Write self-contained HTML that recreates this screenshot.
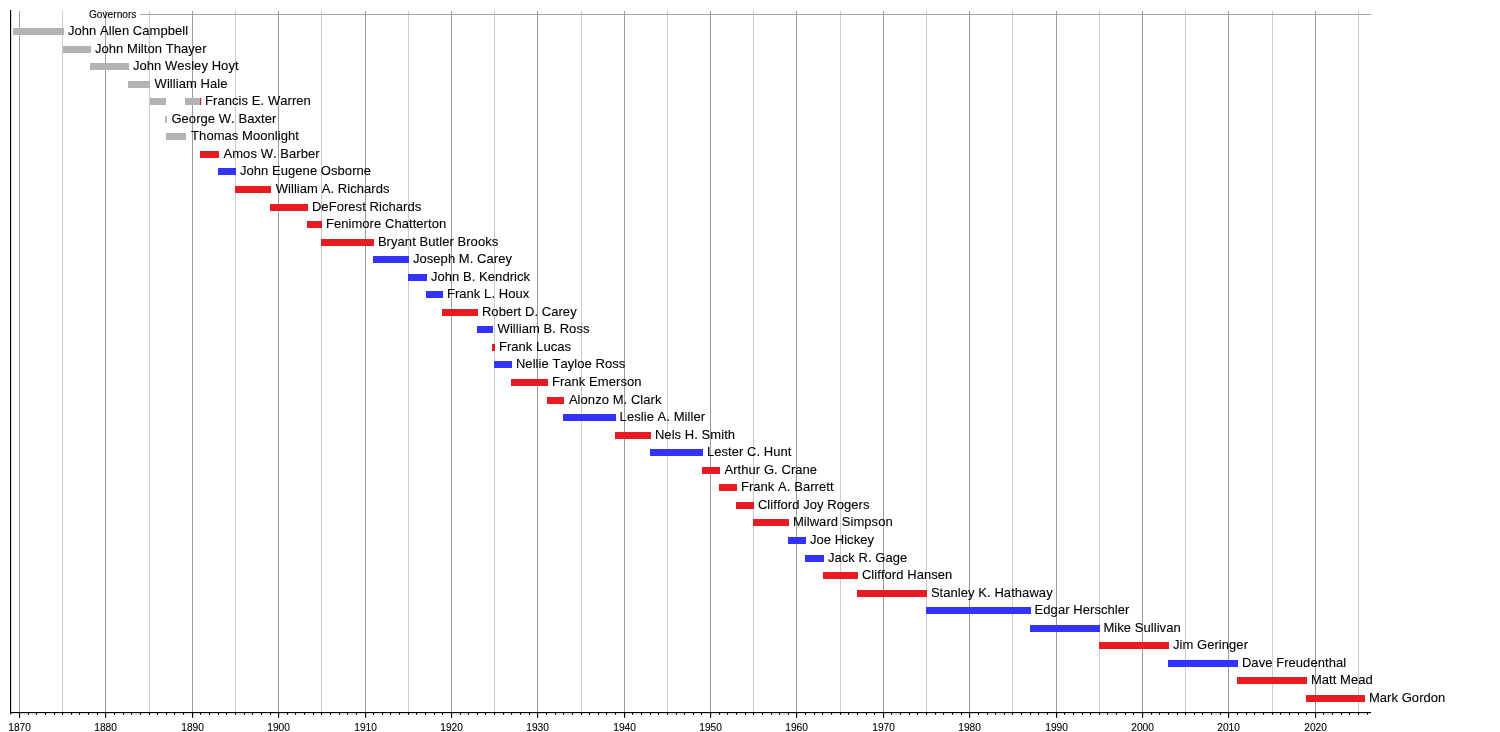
<!DOCTYPE html>
<html lang="en"><head><meta charset="utf-8"><title>Governors of Wyoming timeline</title>
<style>html,body{margin:0;padding:0;background:#fff}body{width:1500px;height:732px;overflow:hidden}svg{display:block;will-change:transform;filter:grayscale(0)}text{font-kerning:none;font-family:"Liberation Sans",Arial,Helvetica,sans-serif;fill:#000;stroke:#000;stroke-width:0.1px}.n{font-size:13px;letter-spacing:0.06px}.y{font-size:10.2px;text-anchor:middle}.t{font-size:10.2px}rect{shape-rendering:crispEdges}</style></head><body>
<svg width="1500" height="732" viewBox="0 0 1500 732">
<rect width="1500" height="732" fill="#fff"/>
<g id="grid">
<rect x="19" y="11" width="1" height="701" fill="#9c9c9c"/>
<rect x="62" y="11" width="1" height="701" fill="#cbcbcb"/>
<rect x="105" y="11" width="1" height="701" fill="#9c9c9c"/>
<rect x="149" y="11" width="1" height="701" fill="#cbcbcb"/>
<rect x="192" y="11" width="1" height="701" fill="#9c9c9c"/>
<rect x="235" y="11" width="1" height="701" fill="#cbcbcb"/>
<rect x="278" y="11" width="1" height="701" fill="#9c9c9c"/>
<rect x="321" y="11" width="1" height="701" fill="#cbcbcb"/>
<rect x="365" y="11" width="1" height="701" fill="#9c9c9c"/>
<rect x="408" y="11" width="1" height="701" fill="#cbcbcb"/>
<rect x="451" y="11" width="1" height="701" fill="#9c9c9c"/>
<rect x="494" y="11" width="1" height="701" fill="#cbcbcb"/>
<rect x="537" y="11" width="1" height="701" fill="#9c9c9c"/>
<rect x="581" y="11" width="1" height="701" fill="#cbcbcb"/>
<rect x="624" y="11" width="1" height="701" fill="#9c9c9c"/>
<rect x="667" y="11" width="1" height="701" fill="#cbcbcb"/>
<rect x="710" y="11" width="1" height="701" fill="#9c9c9c"/>
<rect x="753" y="11" width="1" height="701" fill="#cbcbcb"/>
<rect x="796" y="11" width="1" height="701" fill="#9c9c9c"/>
<rect x="840" y="11" width="1" height="701" fill="#cbcbcb"/>
<rect x="883" y="11" width="1" height="701" fill="#9c9c9c"/>
<rect x="926" y="11" width="1" height="701" fill="#cbcbcb"/>
<rect x="969" y="11" width="1" height="701" fill="#9c9c9c"/>
<rect x="1012" y="11" width="1" height="701" fill="#cbcbcb"/>
<rect x="1056" y="11" width="1" height="701" fill="#9c9c9c"/>
<rect x="1099" y="11" width="1" height="701" fill="#cbcbcb"/>
<rect x="1142" y="11" width="1" height="701" fill="#9c9c9c"/>
<rect x="1185" y="11" width="1" height="701" fill="#cbcbcb"/>
<rect x="1228" y="11" width="1" height="701" fill="#9c9c9c"/>
<rect x="1272" y="11" width="1" height="701" fill="#cbcbcb"/>
<rect x="1315" y="11" width="1" height="701" fill="#9c9c9c"/>
<rect x="1358" y="11" width="1" height="701" fill="#cbcbcb"/>
</g>
<rect x="140" y="14" width="1231" height="1" fill="#a4a4a4"/>
<g id="bars">
<rect x="13" y="28" width="51" height="7" fill="#b3b3b3"/>
<rect x="63" y="46" width="28" height="7" fill="#b3b3b3"/>
<rect x="90" y="63" width="39" height="7" fill="#b3b3b3"/>
<rect x="128" y="81" width="22" height="7" fill="#b3b3b3"/>
<rect x="150" y="98" width="16" height="7" fill="#b3b3b3"/>
<rect x="185" y="98" width="15" height="7" fill="#b3b3b3"/>
<rect x="200" y="98" width="1.2" height="7" fill="#e01d2c" style="shape-rendering:auto"/>
<rect x="165.05" y="116" width="1.8" height="7" fill="#b0b0b0" style="shape-rendering:auto"/>
<rect x="166" y="133" width="20" height="7" fill="#b3b3b3"/>
<rect x="200" y="151" width="19" height="7" fill="#e81b23"/>
<rect x="218" y="168" width="18" height="7" fill="#3333ff"/>
<rect x="235" y="186" width="36" height="7" fill="#e81b23"/>
<rect x="270" y="204" width="38" height="7" fill="#e81b23"/>
<rect x="307" y="221" width="15" height="7" fill="#e81b23"/>
<rect x="321" y="239" width="53" height="7" fill="#e81b23"/>
<rect x="373" y="256" width="36" height="7" fill="#3333ff"/>
<rect x="408" y="274" width="19" height="7" fill="#3333ff"/>
<rect x="426" y="291" width="17" height="7" fill="#3333ff"/>
<rect x="442" y="309" width="36" height="7" fill="#e81b23"/>
<rect x="477" y="326" width="16" height="7" fill="#3333ff"/>
<rect x="492" y="344" width="3" height="7" fill="#e81b23"/>
<rect x="494" y="361" width="18" height="7" fill="#3333ff"/>
<rect x="511" y="379" width="37" height="7" fill="#e81b23"/>
<rect x="547" y="397" width="17" height="7" fill="#e81b23"/>
<rect x="563" y="414" width="53" height="7" fill="#3333ff"/>
<rect x="615" y="432" width="36" height="7" fill="#e81b23"/>
<rect x="650" y="449" width="53" height="7" fill="#3333ff"/>
<rect x="702" y="467" width="18" height="7" fill="#e81b23"/>
<rect x="719" y="484" width="18" height="7" fill="#e81b23"/>
<rect x="736" y="502" width="18" height="7" fill="#e81b23"/>
<rect x="753" y="519" width="36" height="7" fill="#e81b23"/>
<rect x="788" y="537" width="18" height="7" fill="#3333ff"/>
<rect x="805" y="555" width="19" height="7" fill="#3333ff"/>
<rect x="823" y="572" width="35" height="7" fill="#e81b23"/>
<rect x="857" y="590" width="70" height="7" fill="#e81b23"/>
<rect x="926" y="607" width="105" height="7" fill="#3333ff"/>
<rect x="1030" y="625" width="70" height="7" fill="#3333ff"/>
<rect x="1099" y="642" width="70" height="7" fill="#e81b23"/>
<rect x="1168" y="660" width="70" height="7" fill="#3333ff"/>
<rect x="1237" y="677" width="70" height="7" fill="#e81b23"/>
<rect x="1306" y="695" width="59" height="7" fill="#e81b23"/>
</g>
<g id="labels">
<text class="t" x="88.9" y="17.9">Governors</text>
<text class="n" x="67.90" y="34.85">John Allen Campbell</text>
<text class="n" x="94.90" y="52.85">John Milton Thayer</text>
<text class="n" x="132.90" y="69.85">John Wesley Hoyt</text>
<text class="n" x="154.55" y="87.85">William Hale</text>
<text class="n" x="205.10" y="104.85">Francis E. Warren</text>
<text class="n" x="171.40" y="122.85">George W. Baxter</text>
<text class="n" x="191.10" y="139.85">Thomas Moonlight</text>
<text class="n" x="223.50" y="157.85">Amos W. Barber</text>
<text class="n" x="239.90" y="174.85">John Eugene Osborne</text>
<text class="n" x="275.70" y="192.85">William A. Richards</text>
<text class="n" x="311.90" y="210.85">DeForest Richards</text>
<text class="n" x="325.90" y="227.85">Fenimore Chatterton</text>
<text class="n" x="377.90" y="245.85">Bryant Butler Brooks</text>
<text class="n" x="412.90" y="262.85">Joseph M. Carey</text>
<text class="n" x="430.90" y="280.85">John B. Kendrick</text>
<text class="n" x="446.90" y="297.85">Frank L. Houx</text>
<text class="n" x="481.90" y="315.85">Robert D. Carey</text>
<text class="n" x="497.60" y="332.85">William B. Ross</text>
<text class="n" x="498.90" y="350.85">Frank Lucas</text>
<text class="n" x="515.90" y="367.85">Nellie Tayloe Ross</text>
<text class="n" x="551.90" y="385.85">Frank Emerson</text>
<text class="n" x="568.90" y="403.85">Alonzo M. Clark</text>
<text class="n" x="619.60" y="420.85">Leslie A. Miller</text>
<text class="n" x="654.90" y="438.85">Nels H. Smith</text>
<text class="n" x="706.90" y="455.85">Lester C. Hunt</text>
<text class="n" x="724.50" y="473.85">Arthur G. Crane</text>
<text class="n" x="740.90" y="490.85">Frank A. Barrett</text>
<text class="n" x="757.90" y="508.85">Clifford Joy Rogers</text>
<text class="n" x="792.90" y="525.85">Milward Simpson</text>
<text class="n" x="809.90" y="543.85">Joe Hickey</text>
<text class="n" x="827.90" y="561.85">Jack R. Gage</text>
<text class="n" x="861.90" y="578.85">Clifford Hansen</text>
<text class="n" x="930.90" y="596.85">Stanley K. Hathaway</text>
<text class="n" x="1034.60" y="613.85">Edgar Herschler</text>
<text class="n" x="1103.40" y="631.85">Mike Sullivan</text>
<text class="n" x="1172.90" y="648.85">Jim Geringer</text>
<text class="n" x="1241.90" y="666.85">Dave Freudenthal</text>
<text class="n" x="1310.90" y="683.85">Matt Mead</text>
<text class="n" x="1368.90" y="701.85">Mark Gordon</text>
</g>
<g id="axis" fill="#000">
<rect x="10" y="10" width="1.15" height="704.5" style="shape-rendering:auto"/>
<rect x="10" y="712" width="1361" height="1.15" style="shape-rendering:auto"/>
<rect x="19" y="712" width="1.15" height="5.8" style="shape-rendering:auto"/>
<rect x="28" y="712" width="1.1" height="2.7" style="shape-rendering:auto"/>
<rect x="36" y="712" width="1.1" height="2.7" style="shape-rendering:auto"/>
<rect x="45" y="712" width="1.1" height="2.7" style="shape-rendering:auto"/>
<rect x="54" y="712" width="1.1" height="2.7" style="shape-rendering:auto"/>
<rect x="62" y="712" width="1.1" height="2.7" style="shape-rendering:auto"/>
<rect x="71" y="712" width="1.1" height="2.7" style="shape-rendering:auto"/>
<rect x="79" y="712" width="1.1" height="2.7" style="shape-rendering:auto"/>
<rect x="88" y="712" width="1.1" height="2.7" style="shape-rendering:auto"/>
<rect x="97" y="712" width="1.1" height="2.7" style="shape-rendering:auto"/>
<rect x="105" y="712" width="1.15" height="5.8" style="shape-rendering:auto"/>
<rect x="114" y="712" width="1.1" height="2.7" style="shape-rendering:auto"/>
<rect x="123" y="712" width="1.1" height="2.7" style="shape-rendering:auto"/>
<rect x="131" y="712" width="1.1" height="2.7" style="shape-rendering:auto"/>
<rect x="140" y="712" width="1.1" height="2.7" style="shape-rendering:auto"/>
<rect x="149" y="712" width="1.1" height="2.7" style="shape-rendering:auto"/>
<rect x="157" y="712" width="1.1" height="2.7" style="shape-rendering:auto"/>
<rect x="166" y="712" width="1.1" height="2.7" style="shape-rendering:auto"/>
<rect x="174" y="712" width="1.1" height="2.7" style="shape-rendering:auto"/>
<rect x="183" y="712" width="1.1" height="2.7" style="shape-rendering:auto"/>
<rect x="192" y="712" width="1.15" height="5.8" style="shape-rendering:auto"/>
<rect x="200" y="712" width="1.1" height="2.7" style="shape-rendering:auto"/>
<rect x="209" y="712" width="1.1" height="2.7" style="shape-rendering:auto"/>
<rect x="218" y="712" width="1.1" height="2.7" style="shape-rendering:auto"/>
<rect x="226" y="712" width="1.1" height="2.7" style="shape-rendering:auto"/>
<rect x="235" y="712" width="1.1" height="2.7" style="shape-rendering:auto"/>
<rect x="244" y="712" width="1.1" height="2.7" style="shape-rendering:auto"/>
<rect x="252" y="712" width="1.1" height="2.7" style="shape-rendering:auto"/>
<rect x="261" y="712" width="1.1" height="2.7" style="shape-rendering:auto"/>
<rect x="270" y="712" width="1.1" height="2.7" style="shape-rendering:auto"/>
<rect x="278" y="712" width="1.15" height="5.8" style="shape-rendering:auto"/>
<rect x="287" y="712" width="1.1" height="2.7" style="shape-rendering:auto"/>
<rect x="295" y="712" width="1.1" height="2.7" style="shape-rendering:auto"/>
<rect x="304" y="712" width="1.1" height="2.7" style="shape-rendering:auto"/>
<rect x="313" y="712" width="1.1" height="2.7" style="shape-rendering:auto"/>
<rect x="321" y="712" width="1.1" height="2.7" style="shape-rendering:auto"/>
<rect x="330" y="712" width="1.1" height="2.7" style="shape-rendering:auto"/>
<rect x="339" y="712" width="1.1" height="2.7" style="shape-rendering:auto"/>
<rect x="347" y="712" width="1.1" height="2.7" style="shape-rendering:auto"/>
<rect x="356" y="712" width="1.1" height="2.7" style="shape-rendering:auto"/>
<rect x="365" y="712" width="1.15" height="5.8" style="shape-rendering:auto"/>
<rect x="373" y="712" width="1.1" height="2.7" style="shape-rendering:auto"/>
<rect x="382" y="712" width="1.1" height="2.7" style="shape-rendering:auto"/>
<rect x="390" y="712" width="1.1" height="2.7" style="shape-rendering:auto"/>
<rect x="399" y="712" width="1.1" height="2.7" style="shape-rendering:auto"/>
<rect x="408" y="712" width="1.1" height="2.7" style="shape-rendering:auto"/>
<rect x="416" y="712" width="1.1" height="2.7" style="shape-rendering:auto"/>
<rect x="425" y="712" width="1.1" height="2.7" style="shape-rendering:auto"/>
<rect x="434" y="712" width="1.1" height="2.7" style="shape-rendering:auto"/>
<rect x="442" y="712" width="1.1" height="2.7" style="shape-rendering:auto"/>
<rect x="451" y="712" width="1.15" height="5.8" style="shape-rendering:auto"/>
<rect x="460" y="712" width="1.1" height="2.7" style="shape-rendering:auto"/>
<rect x="468" y="712" width="1.1" height="2.7" style="shape-rendering:auto"/>
<rect x="477" y="712" width="1.1" height="2.7" style="shape-rendering:auto"/>
<rect x="485" y="712" width="1.1" height="2.7" style="shape-rendering:auto"/>
<rect x="494" y="712" width="1.1" height="2.7" style="shape-rendering:auto"/>
<rect x="503" y="712" width="1.1" height="2.7" style="shape-rendering:auto"/>
<rect x="511" y="712" width="1.1" height="2.7" style="shape-rendering:auto"/>
<rect x="520" y="712" width="1.1" height="2.7" style="shape-rendering:auto"/>
<rect x="529" y="712" width="1.1" height="2.7" style="shape-rendering:auto"/>
<rect x="537" y="712" width="1.15" height="5.8" style="shape-rendering:auto"/>
<rect x="546" y="712" width="1.1" height="2.7" style="shape-rendering:auto"/>
<rect x="555" y="712" width="1.1" height="2.7" style="shape-rendering:auto"/>
<rect x="563" y="712" width="1.1" height="2.7" style="shape-rendering:auto"/>
<rect x="572" y="712" width="1.1" height="2.7" style="shape-rendering:auto"/>
<rect x="581" y="712" width="1.1" height="2.7" style="shape-rendering:auto"/>
<rect x="589" y="712" width="1.1" height="2.7" style="shape-rendering:auto"/>
<rect x="598" y="712" width="1.1" height="2.7" style="shape-rendering:auto"/>
<rect x="606" y="712" width="1.1" height="2.7" style="shape-rendering:auto"/>
<rect x="615" y="712" width="1.1" height="2.7" style="shape-rendering:auto"/>
<rect x="624" y="712" width="1.15" height="5.8" style="shape-rendering:auto"/>
<rect x="632" y="712" width="1.1" height="2.7" style="shape-rendering:auto"/>
<rect x="641" y="712" width="1.1" height="2.7" style="shape-rendering:auto"/>
<rect x="650" y="712" width="1.1" height="2.7" style="shape-rendering:auto"/>
<rect x="658" y="712" width="1.1" height="2.7" style="shape-rendering:auto"/>
<rect x="667" y="712" width="1.1" height="2.7" style="shape-rendering:auto"/>
<rect x="676" y="712" width="1.1" height="2.7" style="shape-rendering:auto"/>
<rect x="684" y="712" width="1.1" height="2.7" style="shape-rendering:auto"/>
<rect x="693" y="712" width="1.1" height="2.7" style="shape-rendering:auto"/>
<rect x="701" y="712" width="1.1" height="2.7" style="shape-rendering:auto"/>
<rect x="710" y="712" width="1.15" height="5.8" style="shape-rendering:auto"/>
<rect x="719" y="712" width="1.1" height="2.7" style="shape-rendering:auto"/>
<rect x="727" y="712" width="1.1" height="2.7" style="shape-rendering:auto"/>
<rect x="736" y="712" width="1.1" height="2.7" style="shape-rendering:auto"/>
<rect x="745" y="712" width="1.1" height="2.7" style="shape-rendering:auto"/>
<rect x="753" y="712" width="1.1" height="2.7" style="shape-rendering:auto"/>
<rect x="762" y="712" width="1.1" height="2.7" style="shape-rendering:auto"/>
<rect x="771" y="712" width="1.1" height="2.7" style="shape-rendering:auto"/>
<rect x="779" y="712" width="1.1" height="2.7" style="shape-rendering:auto"/>
<rect x="788" y="712" width="1.1" height="2.7" style="shape-rendering:auto"/>
<rect x="796" y="712" width="1.15" height="5.8" style="shape-rendering:auto"/>
<rect x="805" y="712" width="1.1" height="2.7" style="shape-rendering:auto"/>
<rect x="814" y="712" width="1.1" height="2.7" style="shape-rendering:auto"/>
<rect x="822" y="712" width="1.1" height="2.7" style="shape-rendering:auto"/>
<rect x="831" y="712" width="1.1" height="2.7" style="shape-rendering:auto"/>
<rect x="840" y="712" width="1.1" height="2.7" style="shape-rendering:auto"/>
<rect x="848" y="712" width="1.1" height="2.7" style="shape-rendering:auto"/>
<rect x="857" y="712" width="1.1" height="2.7" style="shape-rendering:auto"/>
<rect x="866" y="712" width="1.1" height="2.7" style="shape-rendering:auto"/>
<rect x="874" y="712" width="1.1" height="2.7" style="shape-rendering:auto"/>
<rect x="883" y="712" width="1.15" height="5.8" style="shape-rendering:auto"/>
<rect x="891" y="712" width="1.1" height="2.7" style="shape-rendering:auto"/>
<rect x="900" y="712" width="1.1" height="2.7" style="shape-rendering:auto"/>
<rect x="909" y="712" width="1.1" height="2.7" style="shape-rendering:auto"/>
<rect x="917" y="712" width="1.1" height="2.7" style="shape-rendering:auto"/>
<rect x="926" y="712" width="1.1" height="2.7" style="shape-rendering:auto"/>
<rect x="935" y="712" width="1.1" height="2.7" style="shape-rendering:auto"/>
<rect x="943" y="712" width="1.1" height="2.7" style="shape-rendering:auto"/>
<rect x="952" y="712" width="1.1" height="2.7" style="shape-rendering:auto"/>
<rect x="961" y="712" width="1.1" height="2.7" style="shape-rendering:auto"/>
<rect x="969" y="712" width="1.15" height="5.8" style="shape-rendering:auto"/>
<rect x="978" y="712" width="1.1" height="2.7" style="shape-rendering:auto"/>
<rect x="987" y="712" width="1.1" height="2.7" style="shape-rendering:auto"/>
<rect x="995" y="712" width="1.1" height="2.7" style="shape-rendering:auto"/>
<rect x="1004" y="712" width="1.1" height="2.7" style="shape-rendering:auto"/>
<rect x="1012" y="712" width="1.1" height="2.7" style="shape-rendering:auto"/>
<rect x="1021" y="712" width="1.1" height="2.7" style="shape-rendering:auto"/>
<rect x="1030" y="712" width="1.1" height="2.7" style="shape-rendering:auto"/>
<rect x="1038" y="712" width="1.1" height="2.7" style="shape-rendering:auto"/>
<rect x="1047" y="712" width="1.1" height="2.7" style="shape-rendering:auto"/>
<rect x="1056" y="712" width="1.15" height="5.8" style="shape-rendering:auto"/>
<rect x="1064" y="712" width="1.1" height="2.7" style="shape-rendering:auto"/>
<rect x="1073" y="712" width="1.1" height="2.7" style="shape-rendering:auto"/>
<rect x="1082" y="712" width="1.1" height="2.7" style="shape-rendering:auto"/>
<rect x="1090" y="712" width="1.1" height="2.7" style="shape-rendering:auto"/>
<rect x="1099" y="712" width="1.1" height="2.7" style="shape-rendering:auto"/>
<rect x="1107" y="712" width="1.1" height="2.7" style="shape-rendering:auto"/>
<rect x="1116" y="712" width="1.1" height="2.7" style="shape-rendering:auto"/>
<rect x="1125" y="712" width="1.1" height="2.7" style="shape-rendering:auto"/>
<rect x="1133" y="712" width="1.1" height="2.7" style="shape-rendering:auto"/>
<rect x="1142" y="712" width="1.15" height="5.8" style="shape-rendering:auto"/>
<rect x="1151" y="712" width="1.1" height="2.7" style="shape-rendering:auto"/>
<rect x="1159" y="712" width="1.1" height="2.7" style="shape-rendering:auto"/>
<rect x="1168" y="712" width="1.1" height="2.7" style="shape-rendering:auto"/>
<rect x="1177" y="712" width="1.1" height="2.7" style="shape-rendering:auto"/>
<rect x="1185" y="712" width="1.1" height="2.7" style="shape-rendering:auto"/>
<rect x="1194" y="712" width="1.1" height="2.7" style="shape-rendering:auto"/>
<rect x="1202" y="712" width="1.1" height="2.7" style="shape-rendering:auto"/>
<rect x="1211" y="712" width="1.1" height="2.7" style="shape-rendering:auto"/>
<rect x="1220" y="712" width="1.1" height="2.7" style="shape-rendering:auto"/>
<rect x="1228" y="712" width="1.15" height="5.8" style="shape-rendering:auto"/>
<rect x="1237" y="712" width="1.1" height="2.7" style="shape-rendering:auto"/>
<rect x="1246" y="712" width="1.1" height="2.7" style="shape-rendering:auto"/>
<rect x="1254" y="712" width="1.1" height="2.7" style="shape-rendering:auto"/>
<rect x="1263" y="712" width="1.1" height="2.7" style="shape-rendering:auto"/>
<rect x="1272" y="712" width="1.1" height="2.7" style="shape-rendering:auto"/>
<rect x="1280" y="712" width="1.1" height="2.7" style="shape-rendering:auto"/>
<rect x="1289" y="712" width="1.1" height="2.7" style="shape-rendering:auto"/>
<rect x="1298" y="712" width="1.1" height="2.7" style="shape-rendering:auto"/>
<rect x="1306" y="712" width="1.1" height="2.7" style="shape-rendering:auto"/>
<rect x="1315" y="712" width="1.15" height="5.8" style="shape-rendering:auto"/>
<rect x="1323" y="712" width="1.1" height="2.7" style="shape-rendering:auto"/>
<rect x="1332" y="712" width="1.1" height="2.7" style="shape-rendering:auto"/>
<rect x="1341" y="712" width="1.1" height="2.7" style="shape-rendering:auto"/>
<rect x="1349" y="712" width="1.1" height="2.7" style="shape-rendering:auto"/>
<rect x="1358" y="712" width="1.1" height="2.7" style="shape-rendering:auto"/>
<rect x="1367" y="712" width="1.1" height="2.7" style="shape-rendering:auto"/>
</g>
<g id="years">
<text class="y" x="19.60" y="730.8">1870</text>
<text class="y" x="105.60" y="730.8">1880</text>
<text class="y" x="192.60" y="730.8">1890</text>
<text class="y" x="278.60" y="730.8">1900</text>
<text class="y" x="365.60" y="730.8">1910</text>
<text class="y" x="451.60" y="730.8">1920</text>
<text class="y" x="537.60" y="730.8">1930</text>
<text class="y" x="624.60" y="730.8">1940</text>
<text class="y" x="710.60" y="730.8">1950</text>
<text class="y" x="796.60" y="730.8">1960</text>
<text class="y" x="883.60" y="730.8">1970</text>
<text class="y" x="969.60" y="730.8">1980</text>
<text class="y" x="1056.60" y="730.8">1990</text>
<text class="y" x="1142.60" y="730.8">2000</text>
<text class="y" x="1228.60" y="730.8">2010</text>
<text class="y" x="1315.60" y="730.8">2020</text>
</g>
</svg></body></html>
